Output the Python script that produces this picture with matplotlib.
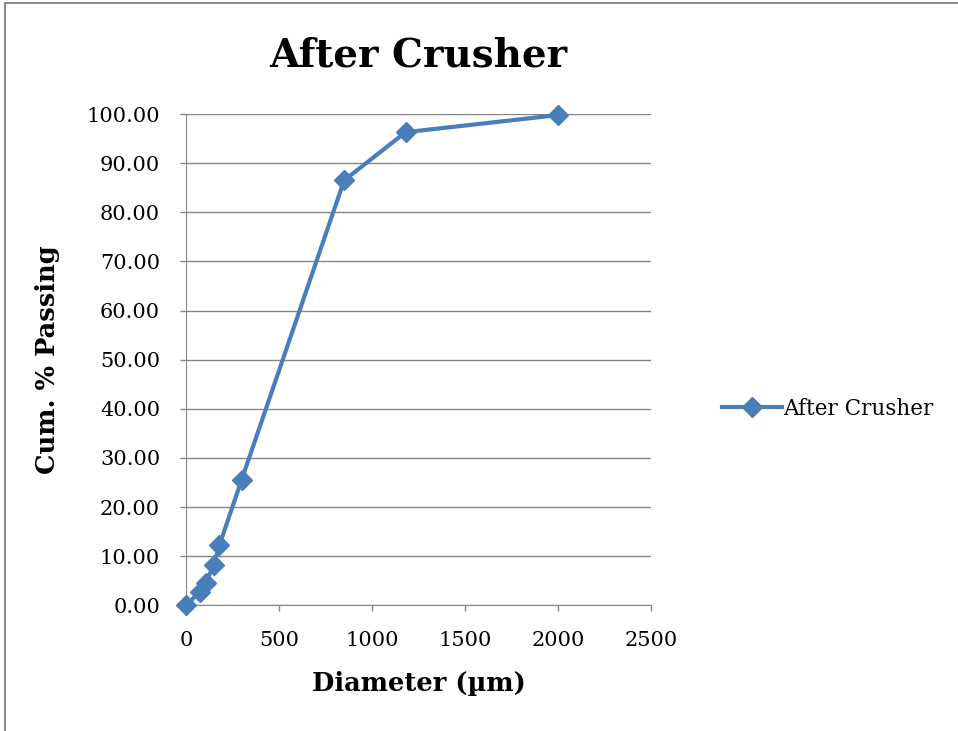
import matplotlib.pyplot as plt
from matplotlib.patches import Rectangle

# sieve data
diameter = [0, 75, 106, 150, 180, 300, 850, 1180, 2000]
cum_passing = [0.0, 2.7, 4.5, 8.2, 12.2, 25.6, 86.5, 96.3, 99.8]

x_ticks = [0, 500, 1000, 1500, 2000, 2500]
y_ticks = [0, 10, 20, 30, 40, 50, 60, 70, 80, 90, 100]

LINE_COLOR = '#4a7ebb'
GRID_COLOR = '#868686'

plt.rcParams['font.family'] = ['DejaVu Serif']

fig = plt.figure(figsize=(9.58, 7.31), dpi=100)
ax = fig.add_axes([0.194, 0.172, 0.486, 0.672])

ax.plot(diameter, cum_passing, color=LINE_COLOR, lw=3, marker='D', ms=10.5,
        label='After Crusher', clip_on=False, zorder=3)

ax.set_xlim(0, 2500)
ax.set_ylim(0, 100)
ax.set_xticks(x_ticks)
ax.set_yticks(y_ticks)
ax.set_yticklabels(['%.2f' % v for v in y_ticks])
ax.tick_params(labelsize=15, color=GRID_COLOR, length=4.5, width=1, pad=14)
ax.yaxis.grid(True, color=GRID_COLOR, lw=1)
ax.set_axisbelow(True)
for s in ['top', 'right']:
    ax.spines[s].set_visible(False)
for s in ['left', 'bottom']:
    ax.spines[s].set_color(GRID_COLOR)

ax.set_title('After Crusher', fontsize=28, fontweight='bold', pad=34)
ax.set_xlabel('Diameter (µm)', fontsize=18.5, fontweight='bold', labelpad=15)
ax.set_ylabel('Cum. % Passing', fontsize=18.5, fontweight='bold', labelpad=19)

ax.legend(loc='center left', bbox_to_anchor=(1.11, 0.40), frameon=False,
          fontsize=15.5, handlelength=2.8, handletextpad=0.05)

# outer chart border
fig.patches.append(Rectangle((0.005, -0.01), 1.1, 1.006, transform=fig.transFigure,
                             fill=False, edgecolor='#8c8c8c', lw=1.5))

fig.savefig('out.png', dpi=100)
